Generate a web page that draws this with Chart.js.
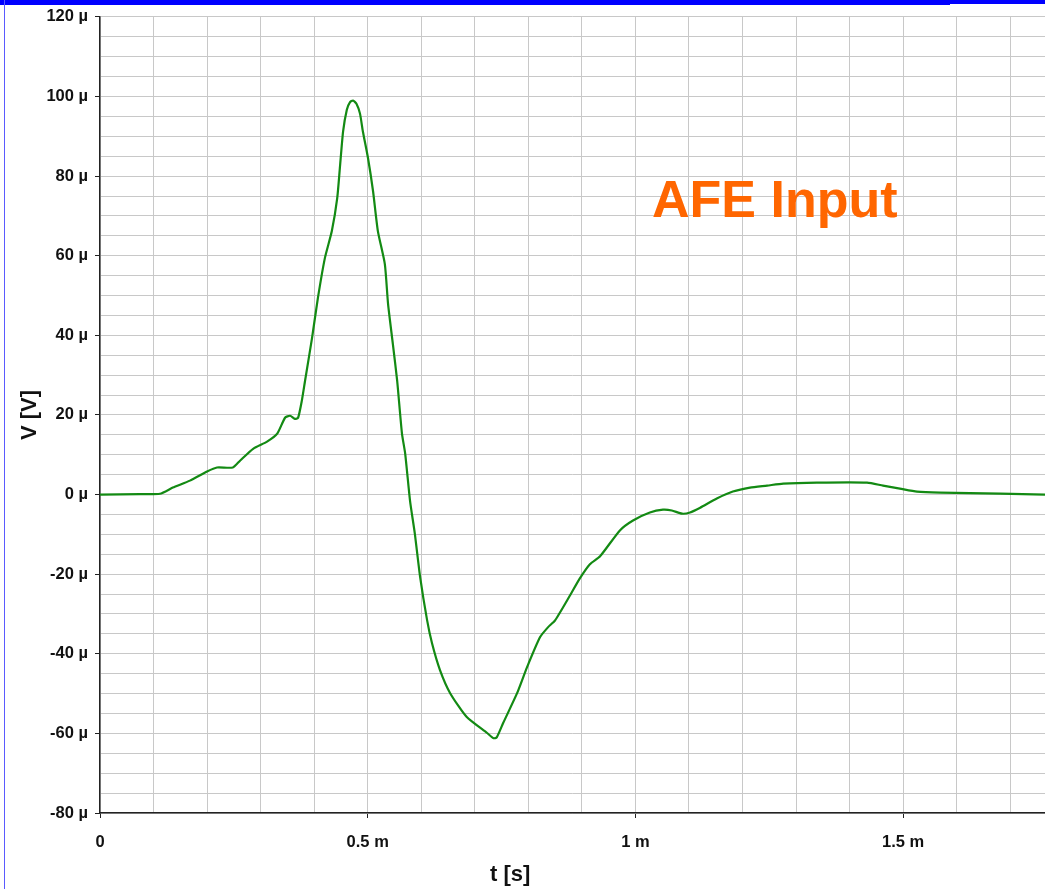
<!DOCTYPE html>
<html>
<head>
<meta charset="utf-8">
<title>AFE Input</title>
<script src="https://cdn.jsdelivr.net/npm/chart.js@4/dist/chart.umd.min.js"></script>
<style>
  html, body { margin: 0; padding: 0; background: #fff; }
  #wrap { position: relative; width: 1045px; height: 889px; }
</style>
</head>
<body>
<div id="wrap"><canvas id="c" width="1045" height="889"></canvas></div>
<script>
// Sampled waveform: time in ms, voltage in µV
const timeMs = [
  0, 0.075, 0.112, 0.136, 0.168, 0.200, 0.2185, 0.248, 0.2615, 0.286, 0.312, 0.331,
  0.3456, 0.355, 0.364, 0.370, 0.377, 0.383, 0.396, 0.407, 0.420, 0.433, 0.443, 0.448,
  0.454, 0.461, 0.467, 0.4725, 0.479, 0.4856, 0.491, 0.5006, 0.510, 0.519, 0.532, 0.538,
  0.547, 0.555, 0.564, 0.570, 0.579, 0.588, 0.598, 0.611, 0.620, 0.635, 0.654, 0.685,
  0.723, 0.735, 0.741, 0.753, 0.779, 0.7975, 0.822, 0.837, 0.850, 0.878, 0.8965, 0.915,
  0.934, 0.971, 0.9955, 1.027, 1.0515, 1.068, 1.087, 1.102, 1.121, 1.152, 1.182, 1.214,
  1.246, 1.276, 1.339, 1.4326, 1.4625, 1.494, 1.526, 1.569, 1.681, 1.765
];
const voltageUv = [
  0, 0.1, 0.2, 1.75, 3.5, 5.8, 6.8, 6.8, 8.5, 11.5, 13.3, 15.3,
  19.3, 19.8, 19.0, 19.3, 23.6, 28.6, 39.3, 49.4, 59.4, 66.2, 74.4, 82,
  91.2, 96.7, 98.6, 99, 98.2, 95.7, 91.2, 84.5, 76.2, 66.2, 57.9, 47.9,
  37.8, 28.6, 15.3, 10.3, -1.5, -9.8, -20.8, -31.6, -37.3, -44.1, -49.9, -55.9,
  -59.9, -61.2, -61, -57.4, -49.9, -43.4, -35.8, -33.3, -31.6, -25.3, -21, -17.5,
  -15.5, -9, -6.5, -4.5, -3.8, -4.0, -4.8, -4.5, -3.3, -1.0, 0.75, 1.75,
  2.25, 2.75, 3.0, 3.0, 2.25, 1.5, 0.75, 0.5, 0.25, 0
];

// Axis ranges and labelled ticks
const xRange = [0, 1.765];
const yRange = [-80, 120];
const xLabelTicks = [0, 0.5, 1, 1.5];
const yLabelTicks = [-80, -60, -40, -20, 0, 20, 40, 60, 80, 100, 120];

const xTitle = 't [s]';
const xTitleAt = 0.766;           // horizontal centre of the x-axis title, in ms
const noteText = 'AFE Input';
const noteAt = { t: 1.031, v: 69.7 };

const FONT = "'Liberation Sans', Arial, Helvetica, sans-serif";
const near = (v, list) => list.some(k => Math.abs(v - k) < 1e-6);

const frame = {
  id: 'frame',
  beforeDraw(chart) {
    const ctx = chart.ctx;
    ctx.save();
    ctx.fillStyle = '#fff';
    ctx.fillRect(0, 0, chart.width, chart.height);
    ctx.restore();
  },
  afterDraw(chart) {
    const ctx = chart.ctx;
    const xs = chart.scales.x, ys = chart.scales.y;
    ctx.save();
    ctx.fillStyle = '#0000ff';
    ctx.fillRect(0, 0, 950, 5);
    ctx.fillRect(950, 0, chart.width - 950, 4);
    ctx.fillStyle = '#5a5aff';
    ctx.fillRect(4, 0, 1, chart.height);

    // x-axis title
    ctx.fillStyle = '#111';
    ctx.font = 'bold 22px ' + FONT;
    ctx.textAlign = 'center';
    ctx.textBaseline = 'middle';
    ctx.fillText(xTitle, xs.getPixelForValue(xTitleAt), 875);

    // annotation text
    ctx.fillStyle = '#ff6600';
    ctx.font = 'bold 52px ' + FONT;
    ctx.textAlign = 'left';
    ctx.textBaseline = 'alphabetic';
    ctx.fillText(noteText, xs.getPixelForValue(noteAt.t), ys.getPixelForValue(noteAt.v));
    ctx.restore();
  }
};

new Chart(document.getElementById('c'), {
  type: 'line',
  data: {
    datasets: [{
      data: timeMs.map((t, i) => ({ x: t, y: voltageUv[i] })),
      borderColor: '#138a13',
      borderWidth: 2.2,
      pointRadius: 0,
      fill: false,
      tension: 0.2
    }]
  },
  options: {
    responsive: false,
    animation: false,
    layout: { padding: { top: 15, right: 0, left: 0, bottom: 0 } },
    plugins: { legend: { display: false }, tooltip: { enabled: false } },
    scales: {
      x: {
        type: 'linear',
        min: xRange[0], max: xRange[1],
        afterFit(s) { s.height = 76; },
        border: { display: true, color: '#222', width: 1.5 },
        grid: {
          color: '#c8c8c8', lineWidth: 1, tickLength: 5,
          tickColor: c => near(c.tick.value, xLabelTicks) ? '#222' : 'rgba(0,0,0,0)'
        },
        ticks: {
          stepSize: 0.1, includeBounds: false, maxRotation: 0, autoSkip: false,
          padding: 15, color: '#111',
          font: { family: FONT, size: 16.5, weight: 'bold' },
          callback: v => near(v, xLabelTicks) ? (Math.abs(v) < 1e-9 ? '0' : `${Math.round(v * 10) / 10} m`) : ''
        },
        title: { display: false }
      },
      y: {
        type: 'linear',
        min: yRange[0], max: yRange[1],
        afterFit(s) { s.width = 100; },
        border: { display: true, color: '#222', width: 1.5 },
        grid: {
          color: '#c8c8c8', lineWidth: 1, tickLength: 5,
          tickColor: c => near(c.tick.value, yLabelTicks) ? '#222' : 'rgba(0,0,0,0)'
        },
        ticks: {
          stepSize: 5, autoSkip: false, padding: 7, color: '#111',
          font: { family: FONT, size: 16.5, weight: 'bold' },
          callback: v => near(v, yLabelTicks) ? `${v} µ` : ''
        },
        title: {
          display: true, text: 'V [V]', color: '#111',
          font: { family: FONT, size: 22, weight: 'bold' },
          padding: { top: 17, bottom: 0 }
        }
      }
    }
  },
  plugins: [frame]
});
</script>
</body>
</html>
